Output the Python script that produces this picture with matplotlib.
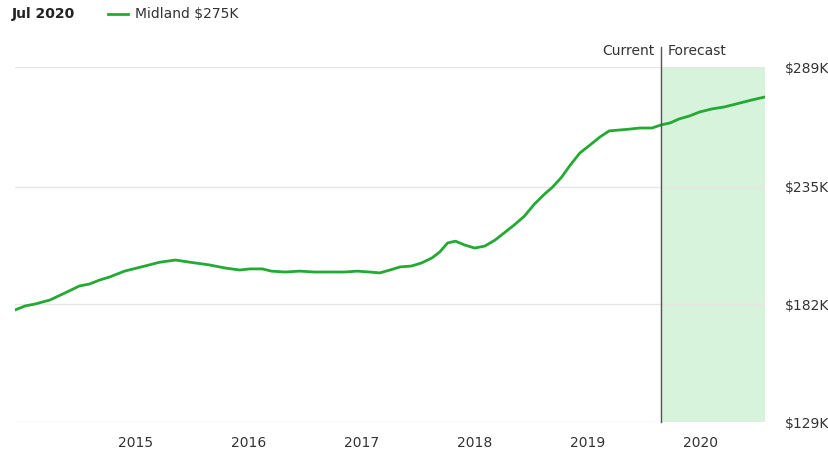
import matplotlib.pyplot as plt
import matplotlib.ticker as mticker

# decimal year and home value (thousands of $)
years = [2013.93, 2014.02, 2014.11, 2014.24, 2014.37, 2014.50, 2014.59, 2014.68, 2014.77, 2014.90,
         2015.08, 2015.21, 2015.35, 2015.48, 2015.65, 2015.79, 2015.92, 2016.01, 2016.12, 2016.20,
         2016.32, 2016.45, 2016.58, 2016.72, 2016.85, 2016.96, 2017.07, 2017.16, 2017.25, 2017.34,
         2017.44, 2017.53, 2017.62, 2017.69, 2017.76, 2017.83, 2017.91, 2018.00, 2018.09, 2018.18,
         2018.27, 2018.35, 2018.44, 2018.53, 2018.62, 2018.69, 2018.77, 2018.84, 2018.93, 2019.02,
         2019.11, 2019.19, 2019.28, 2019.37, 2019.46, 2019.57, 2019.65, 2019.73, 2019.81, 2019.90,
         2019.99, 2020.10, 2020.21, 2020.35, 2020.45, 2020.57]
values = [179.5, 181.3, 182.2, 184.0, 187.1, 190.3, 191.2, 193.0, 194.4, 197.0,
          199.3, 201.0, 202.0, 201.0, 199.8, 198.4, 197.5, 198.0, 198.0, 197.0,
          196.6, 197.0, 196.6, 196.6, 196.6, 197.0, 196.6, 196.2, 197.5, 198.9,
          199.3, 200.7, 202.9, 205.6, 209.7, 210.5, 208.8, 207.4, 208.3, 211.0,
          214.6, 217.8, 221.8, 227.3, 231.8, 234.9, 239.4, 244.4, 250.2, 253.8,
          257.5, 260.2, 260.6, 261.0, 261.5, 261.5, 262.9, 263.8, 265.6, 266.9,
          268.7, 270.1, 271.0, 272.8, 274.1, 275.5]
y_ticks = [129, 182, 235, 289]
x_ticks = [2015, 2016, 2017, 2018, 2019, 2020]
current = 2019.65
x_min, x_max = 2013.93, 2020.57

green = "#22aa33"
fig = plt.figure(figsize=(8.29, 4.59), dpi=100)
ax = fig.add_axes([15/829, 1-422/459, 750/829, 355/459])

ax.axvspan(current, x_max, color="#d8f3dc", zorder=0)
ax.plot(years, values, color=green, lw=2, zorder=3)
ax.set_xlim(x_min, x_max)
ax.set_ylim(129, 289)

for v in y_ticks:
    ax.axhline(v, color="#e6e6e6", lw=1, zorder=1)
ax.set_yticks(y_ticks)
ax.yaxis.tick_right()
ax.yaxis.set_major_formatter(mticker.FuncFormatter(lambda v, p: f"${v:.0f}K"))
ax.set_xticks(x_ticks)
ax.tick_params(length=0, labelsize=10, colors="#333333")
ax.tick_params(axis="y", pad=14)
ax.tick_params(axis="x", pad=10)
for s in ax.spines.values():
    s.set_visible(False)

ax.plot([current, current], [129, 298], color="#555555", lw=1, clip_on=False, zorder=4)
ax.text(current - 0.06, 296, "Current", ha="right", va="center", fontsize=10, color="#333333")
ax.text(current + 0.06, 296, "Forecast", ha="left", va="center", fontsize=10, color="#333333")

fig.text(12/829, 1-14/459, "Jul 2020", fontsize=10, fontweight="bold", va="center", color="#222222")
fig.add_artist(plt.Line2D([108/829, 128/829], [1-14/459, 1-14/459], color=green, lw=2))
fig.text(135/829, 1-14/459, "Midland $275K", fontsize=10, va="center", color="#333333")

fig.savefig("out.png", dpi=100)
